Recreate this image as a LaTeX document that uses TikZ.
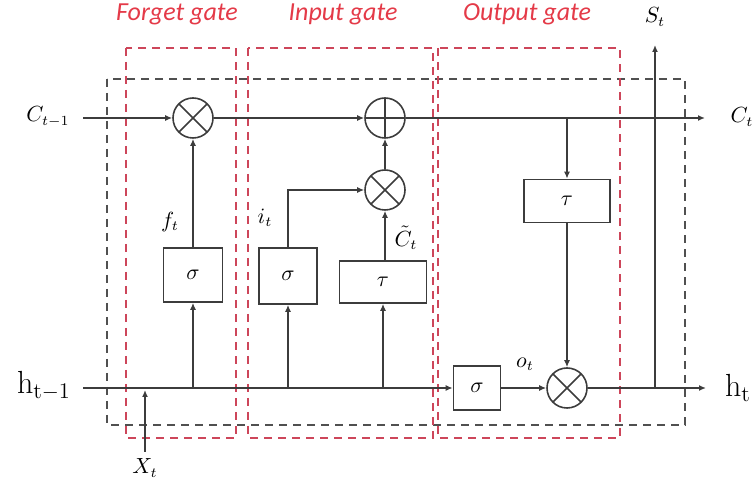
\documentclass[tikz,border=0pt]{standalone}
\usepackage{amsmath,amssymb}
\usepackage{fontspec}
\newfontfamily\gatefont{Carlito}
\usepackage{tikz}
\usetikzlibrary{arrows.meta,positioning}

\definecolor{wire}{RGB}{60,60,60}
\definecolor{gatered}{RGB}{205,70,90}
\definecolor{gatetext}{RGB}{228,58,72}

\tikzset{
  wire/.style={draw=wire,line width=0.8pt},
  arr/.style={wire,-{Latex[length=3.5pt,width=3pt]}},
  opbox/.style={draw=wire,line width=0.8pt,rectangle,inner sep=0pt},
  opcirc/.style={draw=wire,line width=0.8pt,circle,minimum size=20pt,inner sep=0pt},
  mult/.style={opcirc,path picture={
      \draw[wire] (path picture bounding box.north west) -- (path picture bounding box.south east)
                  (path picture bounding box.north east) -- (path picture bounding box.south west);}},
  plus/.style={opcirc,path picture={
      \draw[wire] (path picture bounding box.north) -- (path picture bounding box.south)
                  (path picture bounding box.east) -- (path picture bounding box.west);}},
  cellbox/.style={draw=wire!90,line width=0.8pt,dash pattern=on 4pt off 3pt},
  gatebox/.style={draw=gatered,line width=0.8pt,dash pattern=on 4pt off 3pt},
  gatelabel/.style={text=gatetext,font=\gatefont\itshape\fontsize{13}{15}\selectfont},
  sym/.style={font=\fontsize{10.5}{12}\selectfont,inner sep=1pt},
  bigsym/.style={font=\fontsize{16}{18}\selectfont,inner sep=1pt}
}

\begin{document}
\begin{tikzpicture}[x=0.5pt,y=-0.5pt]
\useasboundingbox (0,0) rectangle (754,490);

% Dashed frames
\draw[cellbox] (107,79) rectangle (685,425);
\draw[gatebox] (126,48) rectangle (236,438);
\draw[gatebox] (248,48) rectangle (433,438);
\draw[gatebox] (438,48) rectangle (620,438);

% Gate titles
\node[gatelabel] (lforget) at (177,14) {Forget gate};
\node[gatelabel] (linput) at (343,14) {Input gate};
\node[gatelabel] (loutput) at (527,14) {Output gate};

% Operators
\node[mult] (fmul) at (193,118) {};
\node[plus] (cadd) at (385,118) {};
\node[mult] (imul) at (385,190) {};
\node[mult] (omul) at (567,388) {};

% Activation boxes
\node[opbox,minimum width=29.5pt,minimum height=27pt,sym] (fsig) at (193,275) {$\sigma$};
\node[opbox,minimum width=29pt,minimum height=28pt,sym] (isig) at (288,276) {$\sigma$};
\node[opbox,minimum width=43.5pt,minimum height=21pt,sym] (itau) at (383,282) {$\tau$};
\node[opbox,minimum width=43pt,minimum height=21.5pt,sym] (otau) at (567,201) {$\tau$};
\node[opbox,minimum width=23.5pt,minimum height=22pt,sym] (osig) at (477,388) {$\sigma$};

% Inputs and outputs
\node[sym] (cin) at (48,117) {$C_{t-1}$};
\node[sym] (cout) at (742,117) {$C_t$};
\node[bigsym] (hin) at (44,386) {$\mathrm{h}_{\mathrm{t-1}}$};
\node[bigsym] (hout) at (738,388) {$\mathrm{h}_{\mathrm{t}}$};
\node[sym] (st) at (655,17) {$S_t$};
\node[sym] (xt) at (145,468) {$X_t$};

% Signal labels
\node[sym] (ft) at (170,222) {$f_t$};
\node[sym] (it) at (265,218) {$i_t$};
\node[sym,inner sep=0pt] (ct) at (406,238) {$\tilde{C}_t$};
\node[sym] (ot) at (525,364) {$o_t$};

% Wire end points
\coordinate (cstart) at (83,118);
\coordinate (cend) at (705,118);
\coordinate (ctap) at (567,118);
\coordinate (hstart) at (83,388);
\coordinate (hend) at (706,388);
\coordinate (stap) at (655,388);
\coordinate (stop) at (655,45);
\coordinate (xstart) at (145,452);
\coordinate (xend) at (145,390);

% Cell state line
\draw[arr] (cstart) -- (fmul);
\draw[arr] (fmul) -- (cadd);
\draw[arr] (cadd) -- (cend);
\draw[arr] (ctap) -- (otau);

% Hidden state line
\draw[arr] (hstart) -- (osig);
\draw[arr] (osig) -- (omul);
\draw[arr] (omul) -- (hend);
\draw[arr] (fsig.south |- hstart) -- (fsig);
\draw[arr] (isig.south |- hstart) -- (isig);
\draw[arr] (itau.south |- hstart) -- (itau);
\draw[arr] (xstart) -- (xend);
\draw[arr] (stap) -- (stop);

% Gate outputs
\draw[arr] (fsig) -- (fmul);
\draw[arr] (isig.north) |- (imul.west);
\draw[arr] (itau.north -| imul.south) -- (imul);
\draw[arr] (imul) -- (cadd);
\draw[arr] (otau) -- (omul);
\end{tikzpicture}
\end{document}
